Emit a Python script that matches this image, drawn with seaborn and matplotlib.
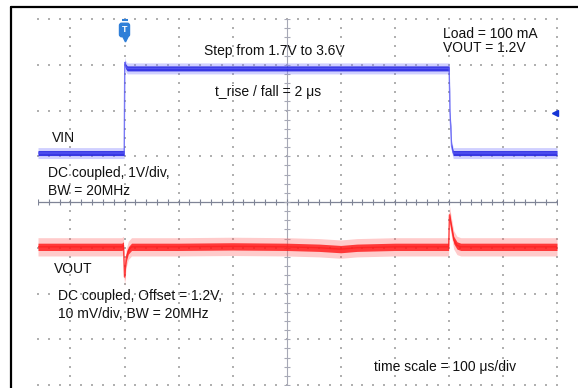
import numpy as np
import pandas as pd
import matplotlib
matplotlib.use("Agg")
import matplotlib.pyplot as plt
from matplotlib.lines import Line2D
import seaborn as sns

# ---------------- data ----------------
# time in microseconds relative to the screen centre (100 us/div)
vin_time_us = [-460, -300.5, -299.5, -298, -295, 0, 300.5, 302, 305, 308, 500]
vin_volts = [1.70, 1.70, 3.68, 3.60, 3.55, 3.55, 3.55, 2.60, 1.85, 1.70, 1.70]

vout_time_us = [-460, -305, -302, -300, -297, -293, -287, -200, -100, 0,
                60, 100, 130, 200, 299.5, 301, 304, 309, 315, 322, 400, 500]
vout_mv = [0, 0, 0.3, -6.6, -2.5, -0.8, 0, 0, 0.1, 0,
           -0.2, -0.5, -0.2, 0, 0, 7.0, 4.8, 1.5, 0.3, 0, 0, 0]

# channel settings (scale per division and screen position in divisions)
VIN_V_PER_DIV, VIN_POS = 1.0, -0.63
VOUT_MV_PER_DIV, VOUT_POS = 10.0, -0.98
TRIG_LEVEL_DIV = 1.945

vin = pd.DataFrame({"t": vin_time_us, "v": vin_volts})
vin["div"] = vin["v"] / VIN_V_PER_DIV + VIN_POS
vout = pd.DataFrame({"t": vout_time_us, "mv": vout_mv})
vout["div"] = vout["mv"] / VOUT_MV_PER_DIV + VOUT_POS

# ---------------- figure ----------------
sns.set_style("white")
plt.rcParams["font.family"] = ["Liberation Sans", "DejaVu Sans"]

W, H = 578, 388
fig = plt.figure(figsize=(W / 100, H / 100), dpi=100)
ax = fig.add_axes([38 / W, 3 / H, (557 - 38) / W, (385 - 19) / H])

# graticule dots
minor_x = np.arange(-500, 501, 20)
minor_x = minor_x[minor_x >= -460]
minor_y = np.arange(-4, 4.001, 0.2)
major_x = [x for x in range(-400, 501, 100) if x != 0]
major_y = [y for y in range(-4, 5) if y != 0]
gx, gy = [], []
for y in major_y:
    gx += list(minor_x); gy += [y] * len(minor_x)
for x in major_x:
    gx += [x] * len(minor_y); gy += list(minor_y)
ax.scatter(gx, gy, s=1.6, marker="s", color="#b0b0b0", linewidths=0,
           clip_on=False, zorder=1)

# centre axes with ticks
ax.axhline(0, color="#7f8496", lw=0.9, zorder=1)
ax.axvline(0, color="#a7a9b6", lw=0.8, zorder=1)
ax.scatter(minor_x, np.zeros_like(minor_x), marker="|", s=14,
           color="#7f8496", linewidths=0.8, zorder=1)
ax.scatter(np.zeros_like(minor_y), minor_y, marker="_", s=14,
           color="#a7a9b6", linewidths=0.8, zorder=1)
ax.axvline(500, color="#ece8cf", lw=0.8, zorder=0)

# traces: noise bands (vertical spread of the trace) + thin core line
def trace(df, outer, inner, c_out, c_in, c_core, a_out, a_in):
    ax.fill_between(df["t"], df["div"] - outer, df["div"] + outer,
                    color=c_out, alpha=a_out, lw=0, zorder=3)
    ax.fill_between(df["t"], df["div"] - inner, df["div"] + inner,
                    color=c_in, alpha=a_in, lw=0, zorder=4)
    sns.lineplot(data=df, x="t", y="div", sort=False, estimator=None, ax=ax,
                 color=c_core, lw=1.0, alpha=0.8, zorder=5)

trace(vin, 0.12, 0.055, "#7a7aff", "#1c1ce0", "#5a5af5", 0.35, 0.85)
trace(vout, 0.20, 0.08, "#ff6a6a", "#ff1414", "#ff2020", 0.35, 0.8)

ax.set_xlim(-460, 500)
ax.set_ylim(-4, 4)
ax.set_axis_off()

# trigger position marker and trigger level arrow
ax.text(-300, 3.76, "T", ha="center", va="center", color="white",
        fontsize=6.5, fontweight="bold", zorder=6,
        bbox=dict(boxstyle="round,pad=0.25", fc="#2f7fd8", ec="#2f7fd8"))
ax.plot(-300, 3.57, marker="v", ms=3.5, color="#2f7fd8", clip_on=False, zorder=6)
ax.plot(-300, 3.98, marker="_", ms=4, mew=1.5, color="#2f7fd8", clip_on=False, zorder=6)
ax.plot(496, TRIG_LEVEL_DIV, marker="<", ms=5, color="#1535d6",
        clip_on=False, zorder=6)

# frame lines
fig.add_artist(Line2D([11 / W, 1], [1 - 7 / H, 1 - 7 / H], color="black", lw=1.6))
fig.add_artist(Line2D([11 / W, 11 / W], [0, 1 - 7 / H], color="black", lw=1.6))

def label(x, y, s):
    fig.text(x / W, 1 - y / H, s, ha="left", va="baseline",
             fontsize=10, color="#111111")

label(204, 55, "Step from 1.7V to 3.6V")
label(215, 96, "t_rise / fall = 2 \u03bcs")
label(443, 38, "Load = 100 mA")
label(443, 52, "VOUT = 1.2V")
label(52, 142, "VIN")
label(48, 177, "DC coupled, 1V/div,")
label(48, 195, "BW = 20MHz")
label(54, 273, "VOUT")
label(58, 300, "DC coupled, Offset = 1.2V,")
label(58, 318, "10 mV/div, BW = 20MHz")
label(374, 371, "time scale = 100 \u03bcs/div")

fig.savefig("out.png", dpi=100)
